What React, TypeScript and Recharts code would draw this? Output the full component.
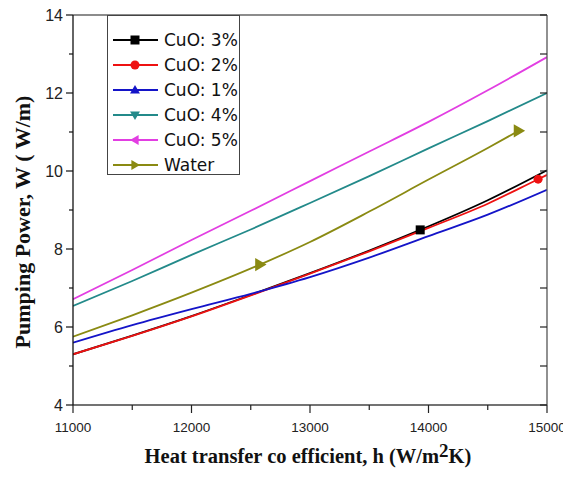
import React from 'react';
import { LineChart, Line, XAxis, YAxis, Legend, Label } from 'recharts';

type Pt = { h: number; w: number };

// Heat transfer coefficient (x) vs pumping power (y) per series
const cuo3: Pt[] = [
  { h: 11000, w: 5.3 }, { h: 11500, w: 5.78 }, { h: 12000, w: 6.28 }, { h: 12500, w: 6.82 },
  { h: 13000, w: 7.38 }, { h: 13500, w: 7.96 }, { h: 13930, w: 8.49 }, { h: 14500, w: 9.25 },
  { h: 15000, w: 10.02 },
];
const cuo2: Pt[] = [
  { h: 11000, w: 5.3 }, { h: 11500, w: 5.77 }, { h: 12000, w: 6.27 }, { h: 12500, w: 6.81 },
  { h: 13000, w: 7.37 }, { h: 13500, w: 7.94 }, { h: 14000, w: 8.54 }, { h: 14500, w: 9.16 },
  { h: 14925, w: 9.79 }, { h: 15000, w: 9.9 },
];
const cuo1: Pt[] = [
  { h: 11000, w: 5.6 }, { h: 11500, w: 6.05 }, { h: 12000, w: 6.46 }, { h: 12500, w: 6.85 },
  { h: 13000, w: 7.28 }, { h: 13500, w: 7.78 }, { h: 14000, w: 8.33 }, { h: 14500, w: 8.88 },
  { h: 15000, w: 9.52 },
];
const cuo4: Pt[] = [
  { h: 11000, w: 6.54 }, { h: 11500, w: 7.18 }, { h: 12000, w: 7.85 }, { h: 12500, w: 8.5 },
  { h: 13000, w: 9.18 }, { h: 13500, w: 9.87 }, { h: 14000, w: 10.58 }, { h: 14500, w: 11.28 },
  { h: 15000, w: 12.0 },
];
const cuo5: Pt[] = [
  { h: 11000, w: 6.71 }, { h: 11500, w: 7.46 }, { h: 12000, w: 8.23 }, { h: 12500, w: 8.98 },
  { h: 13000, w: 9.74 }, { h: 13500, w: 10.5 }, { h: 14000, w: 11.26 }, { h: 14500, w: 12.07 },
  { h: 15000, w: 12.92 },
];
const water: Pt[] = [
  { h: 11000, w: 5.75 }, { h: 11500, w: 6.3 }, { h: 12000, w: 6.88 }, { h: 12578, w: 7.6 },
  { h: 13000, w: 8.18 }, { h: 13500, w: 8.96 }, { h: 14000, w: 9.78 }, { h: 14500, w: 10.59 },
  { h: 14760, w: 11.03 },
];

// x positions at which a marker symbol is drawn on each curve
const cuo3Markers = [13930];
const cuo2Markers = [14925];
const cuo1Markers: number[] = [];
const cuo4Markers: number[] = [];
const cuo5Markers: number[] = [];
const waterMarkers = [12578, 14760];

const seriesNames = ['CuO: 3%', 'CuO: 2%', 'CuO: 1%', 'CuO: 4%', 'CuO: 5%', 'Water'];

const xTicks = [11000, 11500, 12000, 12500, 13000, 13500, 14000, 14500, 15000];
const xTopTicks = [11400, 11800, 12200, 12600, 13000, 13400, 13800, 14200, 14600];
const yTicks = [4, 5, 6, 7, 8, 9, 10, 11, 12, 13, 14];

type Shape = 'square' | 'circle' | 'up' | 'down' | 'left' | 'right';

const series: { name: string; data: Pt[]; markers: number[]; color: string; shape: Shape }[] = [
  { name: seriesNames[0], data: cuo3, markers: cuo3Markers, color: '#000000', shape: 'square' },
  { name: seriesNames[1], data: cuo2, markers: cuo2Markers, color: '#ee1111', shape: 'circle' },
  { name: seriesNames[2], data: cuo1, markers: cuo1Markers, color: '#1414c8', shape: 'up' },
  { name: seriesNames[3], data: cuo4, markers: cuo4Markers, color: '#238a8a', shape: 'down' },
  { name: seriesNames[4], data: cuo5, markers: cuo5Markers, color: '#e23ee2', shape: 'left' },
  { name: seriesNames[5], data: water, markers: waterMarkers, color: '#8a8a12', shape: 'right' },
];

function Marker({ cx, cy, shape, color, r }: { cx: number; cy: number; shape: Shape; color: string; r: number }) {
  switch (shape) {
    case 'square':
      return <rect x={cx - r} y={cy - r} width={2 * r} height={2 * r} fill={color} />;
    case 'circle':
      return <circle cx={cx} cy={cy} r={r} fill={color} />;
    case 'up':
      return <polygon points={`${cx},${cy - r * 1.1} ${cx - r * 1.1},${cy + r * 0.8} ${cx + r * 1.1},${cy + r * 0.8}`} fill={color} />;
    case 'down':
      return <polygon points={`${cx},${cy + r * 1.1} ${cx - r * 1.1},${cy - r * 0.8} ${cx + r * 1.1},${cy - r * 0.8}`} fill={color} />;
    case 'left':
      return <polygon points={`${cx - r * 1.1},${cy} ${cx + r * 0.8},${cy - r * 1.1} ${cx + r * 0.8},${cy + r * 1.1}`} fill={color} />;
    case 'right':
    default:
      return <polygon points={`${cx + r * 1.1},${cy} ${cx - r * 0.8},${cy - r * 1.1} ${cx - r * 0.8},${cy + r * 1.1}`} fill={color} />;
  }
}

const tickFont = 'Liberation Sans, Arial, sans-serif';

const LeftTick = (props: any) => {
  const { x, y, payload } = props;
  const v = payload.value;
  const major = v % 2 === 0;
  return (
    <g>
      <line x1={x} y1={y} x2={x - (major ? 7 : 4)} y2={y} stroke="#111" strokeWidth={1.2} />
      {major && (
        <text x={x - 10} y={y} textAnchor="end" dominantBaseline="central" fontSize={16} fontFamily={tickFont} fill="#222">
          {v}
        </text>
      )}
    </g>
  );
};

const RightTick = (props: any) => {
  const { x, y } = props;
  return <line x1={x} y1={y} x2={x - 7} y2={y} stroke="#222" strokeWidth={1.2} />;
};

const BottomTick = (props: any) => {
  const { x, y, payload } = props;
  const v = payload.value;
  const major = v % 1000 === 0;
  return (
    <g>
      <line x1={x} y1={y} x2={x} y2={y + (major ? 8 : 5)} stroke="#222" strokeWidth={1.2} />
      {major && (
        <text x={x} y={y + 22} textAnchor="middle" dominantBaseline="central" fontSize={13.5} fontFamily={tickFont} fill="#222">
          {v}
        </text>
      )}
    </g>
  );
};

const TopTick = (props: any) => {
  const { x, y, payload } = props;
  const major = (payload.value - 11000) % 800 === 0;
  return <line x1={x} y1={y} x2={x} y2={y + (major ? 9 : 5)} stroke="#222" strokeWidth={1.2} />;
};

const LegendBox = () => (
  <div
    style={{
      width: 131,
      height: 158,
      border: '1px solid #444',
      background: '#fff',
      boxSizing: 'content-box',
    }}
  >
    <svg width={131} height={158}>
      {series.map((s, i) => {
        const cy = 24 + i * 25;
        return (
          <g key={s.name}>
            <line x1={5} y1={cy} x2={50} y2={cy} stroke={s.color} strokeWidth={2} />
            <Marker cx={27} cy={cy} shape={s.shape} color={s.color} r={4.5} />
            <text x={56} y={cy} dominantBaseline="central" fontSize={17} fontFamily="DejaVu Sans, Verdana, sans-serif" fill="#111">
              {s.name}
            </text>
          </g>
        );
      })}
    </svg>
  </div>
);

export default function App() {
  return (
    <LineChart width={560} height={470} margin={{ top: 0, right: 20, bottom: 0, left: 0 }}>
      <XAxis
        xAxisId="bottom"
        dataKey="h"
        type="number"
        domain={[11000, 15000]}
        ticks={xTicks}
        interval={0}
        allowDataOverflow
        height={73}
        tickLine={false}
        tickSize={0}
        tickMargin={0}
        tick={<BottomTick />}
        axisLine={{ stroke: '#444', strokeWidth: 1.3 }}
      >
        <Label
          content={() => (
            <text x={300} y={455} textAnchor="middle" fontSize={20.5} fontWeight="bold" fontFamily="Liberation Serif, Times New Roman, serif" fill="#111">
              Heat transfer co efficient, h (W/m
              <tspan dy={-6} fontSize={19}>2</tspan>
              <tspan dy={6}>K)</tspan>
            </text>
          )}
        />
      </XAxis>
      <XAxis
        xAxisId="top"
        orientation="top"
        type="number"
        domain={[11000, 15000]}
        ticks={xTopTicks}
        interval={0}
        allowDataOverflow
        height={7}
        tickLine={false}
        tickSize={0}
        tickMargin={0}
        tick={<TopTick />}
        axisLine={{ stroke: '#666', strokeWidth: 1.3 }}
      />
      <YAxis
        yAxisId="left"
        type="number"
        domain={[4, 14]}
        ticks={yTicks}
        interval={0}
        allowDataOverflow
        width={65}
        tickLine={false}
        tickSize={0}
        tickMargin={0}
        tick={<LeftTick />}
        axisLine={{ stroke: '#111', strokeWidth: 1.3 }}
      >
        <Label
          content={() => (
            <text
              x={14}
              y={214}
              transform="rotate(-90 14 214)"
              textAnchor="middle"
              dominantBaseline="central"
              fontSize={22}
              fontWeight="bold"
              fontFamily="Liberation Serif, Times New Roman, serif"
              fill="#111"
            >
              Pumping Power, W ( W/m)
            </text>
          )}
        />
      </YAxis>
      <YAxis
        yAxisId="right"
        orientation="right"
        type="number"
        domain={[4, 14]}
        ticks={yTicks}
        interval={0}
        allowDataOverflow
        width={1}
        tickLine={false}
        tickSize={0}
        tickMargin={0}
        tick={<RightTick />}
        axisLine={{ stroke: '#555', strokeWidth: 1.3 }}
      />
      {series.map((s) => (
        <Line
          key={s.name}
          xAxisId="bottom"
          yAxisId="left"
          data={s.data}
          dataKey="w"
          name={s.name}
          type="monotone"
          stroke={s.color}
          strokeWidth={1.8}
          isAnimationActive={false}
          activeDot={false}
          dot={(p: any) => {
            const key = `${s.name}-${p.index}`;
            if (s.markers.includes(p.payload.h)) {
              return (
                <g key={key}>
                  <Marker cx={p.cx} cy={p.cy} shape={s.shape} color={s.color} r={s.shape === 'right' ? 6 : 4.5} />
                </g>
              );
            }
            return <g key={key} />;
          }}
        />
      ))}
      <Legend
        layout="vertical"
        align="center"
        verticalAlign="middle"
        content={() => <LegendBox />}
        wrapperStyle={{ left: 99, top: 7, width: 133, height: 160 }}
      />
    </LineChart>
  );
}
